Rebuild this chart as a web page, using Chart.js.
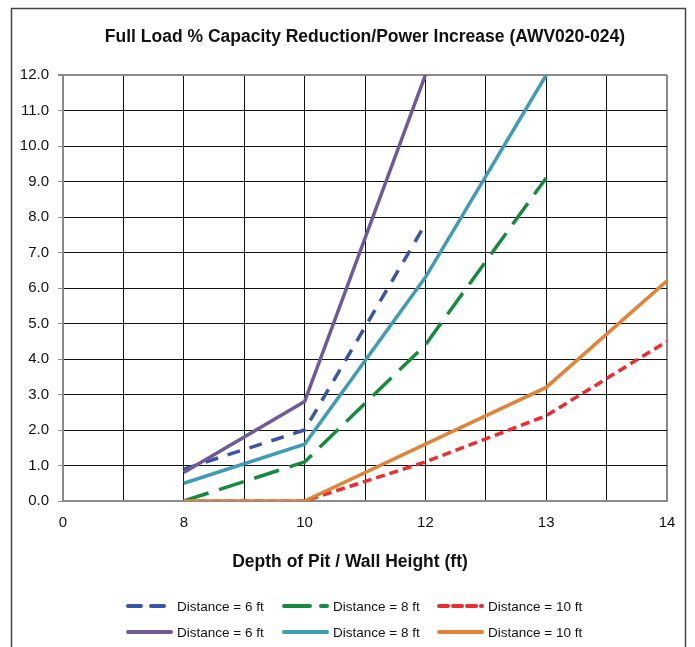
<!DOCTYPE html>
<html>
<head>
<meta charset="utf-8">
<script src="https://cdn.jsdelivr.net/npm/chart.js@4"></script>
<style>
  html, body { margin: 0; padding: 0; background: #fff; }
  canvas { display: block; }
</style>
</head>
<body>
<canvas id="capChart" width="695" height="647"></canvas>
<script>
// depth categories (evenly spaced like an Excel category axis)
const categories = ["0", "8", "10", "12", "13", "14"];
const yTicks = [0, 1, 2, 3, 4, 5, 6, 7, 8, 9, 10, 11, 12];

// % capacity reduction / power increase, one value per category
const dashed6 = [null, 0.9, 2.0, 7.8, null, null];
const dashed8 = [null, 0.0, 1.1, 4.4, 9.1, null];
const dashed10 = [null, 0.0, 0.0, 1.1, 2.4, 4.5];
const solid6 = [null, 0.8, 2.8, 12.0, null, null];
const solid8 = [null, 0.5, 1.6, 6.3, 12.0, null];
const solid10 = [null, 0.0, 0.0, 1.6, 3.2, 6.2];

const FONT = "'Liberation Sans', Arial, sans-serif";

function pts(values) {
  return values.map((v, i) => ({ x: i, y: v }));
}

function line(label, values, color, dash, order) {
  return {
    label: label,
    data: pts(values),
    borderColor: color,
    backgroundColor: color,
    borderWidth: 3.5,
    borderDash: dash,
    pointRadius: 0,
    tension: 0,
    fill: false,
    order: order
  };
}

const datasets = [
  line("Distance = 6 ft", dashed6, "#3a55a6", [13, 10], 1),
  line("Distance = 8 ft", dashed8, "#168a3f", [26, 11], 1),
  line("Distance = 10 ft", dashed10, "#ee2b2e", [9, 5], 1),
  line("Distance = 6 ft", solid6, "#6e5a9a", [], 0),
  line("Distance = 8 ft", solid8, "#3e9db5", [], 0),
  line("Distance = 10 ft", solid10, "#e0843a", [], 0)
];

// frame, titles and a 3x2 legend grid
const decor = {
  id: "decor",
  beforeDraw(chart) {
    const c = chart.ctx;
    c.save();
    c.fillStyle = "#fff";
    c.fillRect(0, 0, chart.width, chart.height);
    c.strokeStyle = "#444";
    c.lineWidth = 1.5;
    c.strokeRect(11.5, 8.5, 674, 645);
    c.restore();
  },
  afterDraw(chart) {
    const c = chart.ctx;
    const area = chart.chartArea;
    c.save();
    c.fillStyle = "#111";
    c.textAlign = "center";
    c.textBaseline = "middle";
    c.font = "bold 17.5px " + FONT;
    c.fillText("Full Load % Capacity Reduction/Power Increase (AWV020-024)", (area.left + area.right) / 2, 37);
    c.fillText("Depth of Pit / Wall Height (ft)", 350, 562);

    const cols = [126, 282, 437];
    const rows = [606, 632];
    c.font = "13.5px " + FONT;
    c.textAlign = "left";
    datasets.forEach((ds, i) => {
      const x = cols[i % 3];
      const y = rows[Math.floor(i / 3)];
      c.strokeStyle = ds.borderColor;
      c.lineWidth = 4;
      c.lineCap = "round";
      c.setLineDash(ds.borderDash);
      c.beginPath();
      c.moveTo(x + 2, y);
      c.lineTo(x + 45, y);
      c.stroke();
      c.setLineDash([]);
      c.fillStyle = "#111";
      c.fillText(ds.label, x + 51, y + 1);
    });
    c.restore();
  }
};

new Chart(document.getElementById("capChart"), {
  type: "line",
  data: { datasets: datasets },
  options: {
    responsive: false,
    animation: false,
    layout: { padding: { top: 75, left: 12, right: 28, bottom: 106 } },
    plugins: {
      legend: { display: false },
      title: { display: false },
      tooltip: { enabled: false }
    },
    scales: {
      x: {
        type: "linear",
        min: 0,
        max: categories.length - 1,
        afterFit: (s) => { s.height = 40; },
        ticks: {
          stepSize: 0.5,
          autoSkip: false,
          maxRotation: 0,
          padding: 13,
          color: "#111",
          font: { family: FONT, size: 15 },
          callback: (v) => Number.isInteger(v) ? categories[v] : ""
        },
        grid: {
          drawTicks: false,
          color: (ctx) => ctx.tick && ctx.tick.value === categories.length - 1 ? "#8a8a8a" : "#111",
          lineWidth: (ctx) => ctx.tick && ctx.tick.value === categories.length - 1 ? 2 : 1
        },
        border: { color: "#8a8a8a", width: 2 }
      },
      y: {
        min: yTicks[0],
        max: yTicks[yTicks.length - 1],
        afterFit: (s) => { s.width = 51; },
        afterBuildTicks: (s) => { s.ticks = yTicks.map(v => ({ value: v })); },
        ticks: {
          padding: 9,
          color: "#111",
          font: { family: FONT, size: 15 },
          callback: (v) => v.toFixed(1)
        },
        grid: {
          tickLength: 5,
          tickColor: "#8a8a8a",
          color: (ctx) => ctx.tick && ctx.tick.value === yTicks[yTicks.length - 1] ? "#8a8a8a" : "#111",
          lineWidth: (ctx) => ctx.tick && ctx.tick.value === yTicks[yTicks.length - 1] ? 2 : 1
        },
        border: { color: "#8a8a8a", width: 2 }
      }
    }
  },
  plugins: [decor]
});
</script>
</body>
</html>
